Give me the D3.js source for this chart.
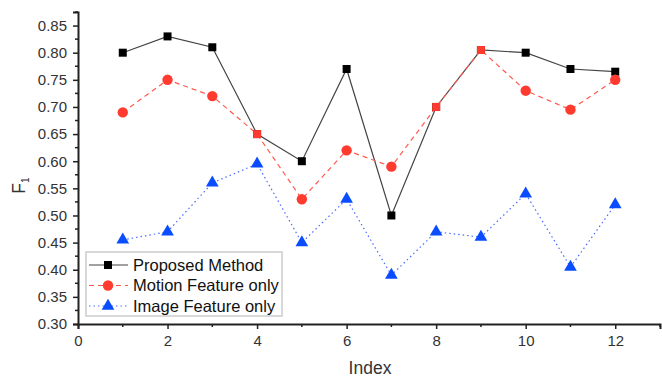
<!DOCTYPE html>
<html>
<head>
<meta charset="utf-8">
<script src="https://cdn.jsdelivr.net/npm/d3@7"></script>
<style>
  body { margin: 0; background: #fff; }
  text { font-family: "Liberation Sans", Arial, sans-serif; }
</style>
</head>
<body>
<div id="chart"></div>
<script>
// chart values
let index = [1, 2, 3, 4, 5, 6, 7, 8, 9, 10, 11, 12];
let proposed = [0.80, 0.83, 0.81, 0.65, 0.60, 0.77, 0.50, 0.70, 0.805, 0.80, 0.77, 0.765];
let motion = [0.69, 0.75, 0.72, 0.65, 0.53, 0.62, 0.59, 0.70, 0.805, 0.73, 0.695, 0.75];
let image = [0.455, 0.47, 0.56, 0.595, 0.45, 0.53, 0.39, 0.47, 0.46, 0.54, 0.405, 0.52];
let seriesNames = ["Proposed Method", "Motion Feature only", "Image Feature only"];
let xTicks = [0, 2, 4, 6, 8, 10, 12];
let yTicks = [0.30, 0.35, 0.40, 0.45, 0.50, 0.55, 0.60, 0.65, 0.70, 0.75, 0.80, 0.85];

let drawChart = function () {
    let width = 662, height = 377;
    let margin = {left: 78, right: 2, top: 12, bottom: 53};

    let svg = d3.select('#chart')
        .append('svg')
        .attr('width', width)
        .attr('height', height);

    //scales
    let x = d3.scaleLinear().domain([0, 13]).range([margin.left, width - margin.right]);
    let y = d3.scaleLinear().domain([0.30, 0.875]).range([height - margin.bottom, margin.top]);

    let axisColor = "#222";
    let labelColor = "#333";

    //x axis: major ticks + minor ticks
    let xAxis = svg.append('g')
        .attr('transform', `translate(0,${y(0.30)})`)
        .call(d3.axisBottom(x).tickValues(xTicks).tickFormat(d3.format("d")).tickSize(5).tickPadding(6));
    xAxis.append('g').selectAll('line')
        .data(d3.range(1, 14, 2))
        .join('line')
        .attr('x1', d => x(d)).attr('x2', d => x(d))
        .attr('y1', 0).attr('y2', 3)
        .attr('stroke', axisColor).attr('stroke-width', 1.5);

    //y axis
    let yAxis = svg.append('g')
        .attr('transform', `translate(${x(0)},0)`)
        .call(d3.axisLeft(y).tickValues(yTicks).tickFormat(d3.format(".2f")).tickSize(5).tickPadding(6));
    yAxis.append('g').selectAll('line')
        .data(d3.range(0.325, 0.876, 0.05))
        .join('line')
        .attr('x1', 0).attr('x2', -3)
        .attr('y1', d => y(d)).attr('y2', d => y(d))
        .attr('stroke', axisColor).attr('stroke-width', 1.5);

    [xAxis, yAxis].forEach(function (ax) {
        ax.select('.domain').attr('stroke', axisColor).attr('stroke-width', 2);
        ax.selectAll('.tick line').attr('stroke', axisColor).attr('stroke-width', 1.5);
        ax.selectAll('.tick text')
            .attr('fill', labelColor)
            .attr('font-size', 15)
            .attr('font-family', '"Liberation Sans", Arial, sans-serif');
    });

    //axis titles
    svg.append('text')
        .attr('x', (x(0) + x(13)) / 2 + 1)
        .attr('y', 374)
        .attr('text-anchor', 'middle')
        .attr('font-size', 17.5)
        .attr('fill', labelColor)
        .text('Index');

    let yTitle = svg.append('text')
        .attr('transform', `translate(25,${y(0.555)}) rotate(-90)`)
        .attr('text-anchor', 'middle')
        .attr('font-size', 17.5)
        .attr('fill', labelColor);
    yTitle.append('tspan').text('F');
    yTitle.append('tspan').attr('font-size', 10).attr('dy', 4).text('1');

    //series definitions
    let series = [
        {name: seriesNames[0], values: proposed, color: "#000", line: "#444", dash: null, marker: "square"},
        {name: seriesNames[1], values: motion, color: "#ff3b2f", line: "#ff5a4f", dash: "5,4", marker: "circle"},
        {name: seriesNames[2], values: image, color: "#0a4cff", line: "#4a6cff", dash: "1.5,3", marker: "triangle"}
    ];

    let symbols = {
        square: d3.symbol().type(d3.symbolSquare).size(64),
        circle: d3.symbol().type(d3.symbolCircle).size(85),
        triangle: d3.symbol().type(d3.symbolTriangle).size(70)
    };

    let line = d3.line()
        .x((d, i) => x(index[i]))
        .y(d => y(d));

    let plot = svg.append('g');

    series.forEach(function (s) {
        plot.append('path')
            .datum(s.values)
            .attr('fill', 'none')
            .attr('stroke', s.line)
            .attr('stroke-width', 1.2)
            .attr('stroke-dasharray', s.dash)
            .attr('d', line);
    });

    series.forEach(function (s, k) {
        plot.append('g')
            .selectAll('path')
            .data(s.values)
            .join('path')
            .attr('transform', (d, i) => `translate(${x(index[i])},${y(d)})`)
            .attr('d', function (d, i) {
                // where motion equals proposed, the reference shows a red square
                if (k === 1 && d === proposed[i]) return symbols.square();
                return symbols[s.marker]();
            })
            .attr('fill', s.color);
    });

    //legend
    let lg = svg.append('g').attr('transform', 'translate(86,252)');
    lg.append('rect')
        .attr('width', 196).attr('height', 64)
        .attr('fill', '#fff')
        .attr('stroke', '#ccc')
        .attr('stroke-width', 1.5);
    series.forEach(function (s, i) {
        let row = lg.append('g').attr('transform', `translate(0,${13 + i * 20.5})`);
        row.append('line')
            .attr('x1', 3).attr('x2', 42)
            .attr('stroke', s.line).attr('stroke-width', 1.2)
            .attr('stroke-dasharray', s.dash);
        row.append('path')
            .attr('transform', 'translate(22,0)')
            .attr('d', symbols[s.marker]())
            .attr('fill', s.color);
        row.append('text')
            .attr('x', 47).attr('dy', '0.36em')
            .attr('font-size', 16.5)
            .attr('fill', '#111')
            .text(s.name);
    });
};

drawChart();
</script>
</body>
</html>
